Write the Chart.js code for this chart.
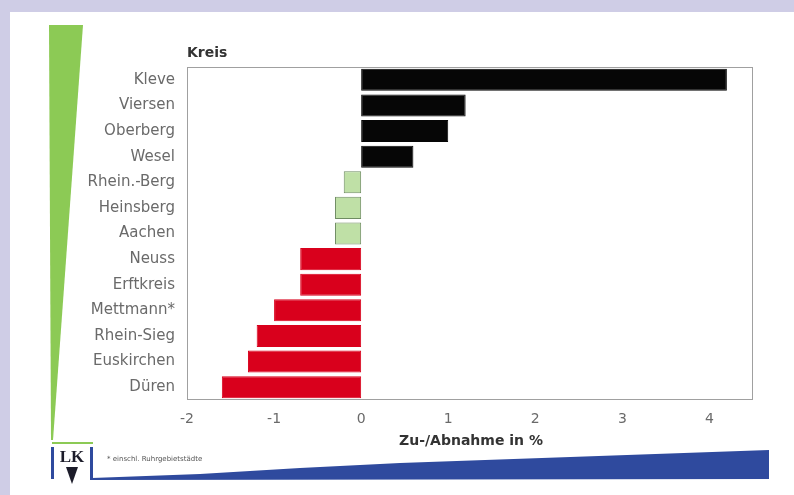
<!DOCTYPE html>
<html>
<head>
<meta charset="utf-8">
<script src="https://cdn.jsdelivr.net/npm/chart.js@4/dist/chart.umd.min.js"></script>
<style>
  html, body { margin: 0; padding: 0; background: #cfcde6; }
  #wrap { position: absolute; left: 0; top: 0; width: 794px; height: 495px; }
</style>
</head>
<body>
<div id="wrap"><canvas id="chart" width="794" height="495"></canvas></div>
<script>
// Data
var kreise = ['Kleve', 'Viersen', 'Oberberg', 'Wesel', 'Rhein.-Berg', 'Heinsberg', 'Aachen',
              'Neuss', 'Erftkreis', 'Mettmann*', 'Rhein-Sieg', 'Euskirchen', 'Düren'];
var veraenderung = [4.2, 1.2, 1.0, 0.6, -0.2, -0.3, -0.3, -0.7, -0.7, -1.0, -1.2, -1.3, -1.6];
var xTicks = [-2, -1, 0, 1, 2, 3, 4];

var axisTitle = 'Zu-/Abnahme in %';
var catTitle = 'Kreis';
var footnote = '* einschl. Ruhrgebietstädte';

var FONT = '"DejaVu Sans", Verdana, sans-serif';

function barColor(v) {
  if (v > 0) return '#060606';
  if (v > -0.5) return '#bfe0a6';
  return '#d9001c';
}
function barBorder(v) {
  if (v > 0) return '#060606';
  if (v > -0.5) return '#6f8c62';
  return '#d9001c';
}

// page frame, wedges, logo and titles
var decor = {
  id: 'decor',
  beforeDraw: function (chart) {
    var c = chart.ctx;
    c.save();
    c.fillStyle = '#cfcde6';
    c.fillRect(0, 0, 794, 495);
    c.fillStyle = '#ffffff';
    c.fillRect(10, 12, 784, 483);

    // green wedge on the left
    c.fillStyle = '#8cca55';
    c.beginPath();
    c.moveTo(49, 25);
    c.lineTo(83, 25);
    c.lineTo(53, 440);
    c.lineTo(51, 440);
    c.closePath();
    c.fill();
    c.fillRect(52, 442, 41, 2);

    // blue wedge at the bottom
    c.fillStyle = '#2f4a9e';
    c.beginPath();
    c.moveTo(92, 478);
    c.lineTo(200, 474);
    c.lineTo(300, 468);
    c.lineTo(400, 463);
    c.lineTo(769, 450);
    c.lineTo(769, 479);
    c.lineTo(92, 480);
    c.closePath();
    c.fill();

    // logo
    c.fillRect(51, 447, 3, 32);
    c.fillRect(90, 447, 3, 33);
    c.fillStyle = '#1c1c2a';
    c.font = 'bold 17px "Liberation Serif", serif';
    c.textAlign = 'center';
    c.textBaseline = 'middle';
    c.fillText('LK', 72, 458);
    c.beginPath();
    c.moveTo(66, 467);
    c.lineTo(78, 467);
    c.lineTo(72, 484);
    c.closePath();
    c.fill();

    // footnote
    c.fillStyle = '#555';
    c.font = '7px ' + FONT;
    c.textAlign = 'left';
    c.fillText(footnote, 107, 459);
    c.restore();
  },
  afterDraw: function (chart) {
    var c = chart.ctx;
    var a = chart.chartArea;
    c.save();
    c.strokeStyle = '#a0a0a0';
    c.lineWidth = 1;
    c.strokeRect(a.left + 0.5, a.top + 0.5, a.right - a.left - 1, a.bottom - a.top - 1);
    c.fillStyle = '#333';
    c.font = 'bold 14px ' + FONT;
    c.textBaseline = 'middle';
    c.textAlign = 'left';
    c.fillText(catTitle, a.left, 53);
    c.textAlign = 'center';
    c.fillText(axisTitle, 471, 441);
    c.restore();
  }
};

new Chart(document.getElementById('chart'), {
  type: 'bar',
  data: {
    labels: kreise,
    datasets: [{
      data: veraenderung,
      backgroundColor: function (ctx) { return barColor(veraenderung[ctx.dataIndex]); },
      borderColor: function (ctx) { return barBorder(veraenderung[ctx.dataIndex]); },
      borderWidth: 1,
      borderSkipped: false,
      barPercentage: 0.86,
      categoryPercentage: 1
    }]
  },
  options: {
    indexAxis: 'y',
    responsive: false,
    animation: false,
    layout: { padding: { left: 0, right: 41, top: 67, bottom: 0 } },
    plugins: { legend: { display: false }, tooltip: { enabled: false } },
    scales: {
      x: {
        min: -2,
        max: 4.5,
        afterBuildTicks: function (scale) {
          scale.ticks = xTicks.map(function (v) { return { value: v }; });
        },
        afterFit: function (scale) { scale.height = 95; },
        grid: { display: false, drawTicks: false },
        border: { display: false },
        ticks: {
          padding: 11,
          color: '#6a6a6a',
          font: { size: 14, family: FONT }
        }
      },
      y: {
        afterFit: function (scale) { scale.width = 187; },
        grid: { display: false, drawTicks: false },
        border: { display: false },
        ticks: {
          padding: 12,
          color: '#6a6a6a',
          font: { size: 15, family: FONT }
        }
      }
    }
  },
  plugins: [decor]
});
</script>
</body>
</html>
